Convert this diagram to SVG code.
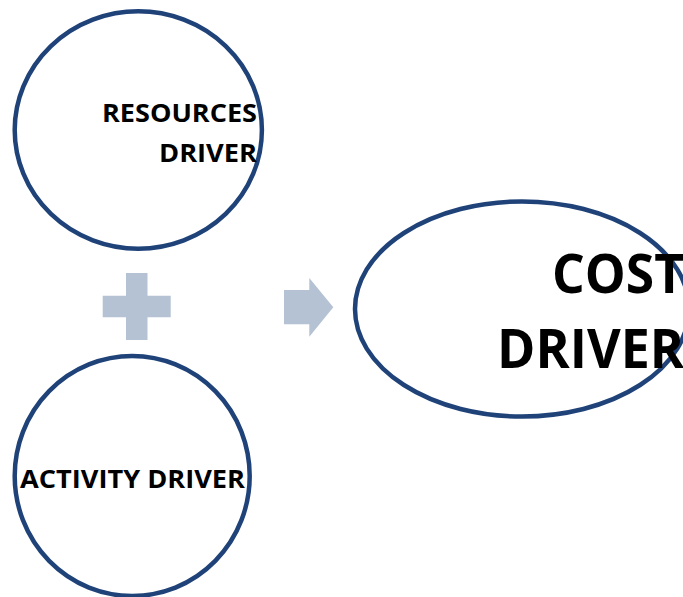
<svg xmlns="http://www.w3.org/2000/svg" width="683" height="597" viewBox="0 0 683 597">
  <style>
    .node { fill: #ffffff; stroke: #1f4379; stroke-width: 4.5; }
    .sym { fill: #b4c2d3; }
    .lbl { font-family: "Open Sans", "Liberation Sans", sans-serif; font-weight: bold; fill: #000000; text-anchor: end; }
    .sm { font-size: 25.5px; }
    .lg { font-size: 53px; }
  </style>
  <rect width="683" height="597" fill="#ffffff"/>

  <g id="resources-driver">
    <ellipse class="node" cx="138.3" cy="130" rx="123.6" ry="118.7"/>
    <text class="lbl sm" x="257" y="122" textLength="155" lengthAdjust="spacingAndGlyphs">RESOURCES</text>
    <text class="lbl sm" x="257" y="162" textLength="98" lengthAdjust="spacingAndGlyphs">DRIVER</text>
  </g>

  <g id="activity-driver">
    <ellipse class="node" cx="132.2" cy="476" rx="117.5" ry="120"/>
    <text class="lbl sm" x="245" y="488" textLength="225" lengthAdjust="spacingAndGlyphs">ACTIVITY DRIVER</text>
  </g>

  <g id="cost-driver">
    <ellipse class="node" cx="522" cy="309" rx="167" ry="107.5"/>
    <!-- label runs past the right edge of the canvas -->
    <text class="lbl lg" x="684" y="293" textLength="132" lengthAdjust="spacingAndGlyphs">COST</text>
    <text class="lbl lg" x="684" y="368" textLength="187" lengthAdjust="spacingAndGlyphs">DRIVER</text>
  </g>

  <g id="connectors">
    <!-- plus sign joining the two drivers -->
    <path class="sym" d="M126,273 H147.5 V295.7 H170.7 V317.3 H147.5 V340 H126 V317.3 H102.7 V295.7 H126 Z"/>
    <!-- block arrow toward the result -->
    <path class="sym" d="M284,290 H309.3 V278 L333.3,307.3 L309.3,336.7 V324.3 H284 Z"/>
  </g>
</svg>
